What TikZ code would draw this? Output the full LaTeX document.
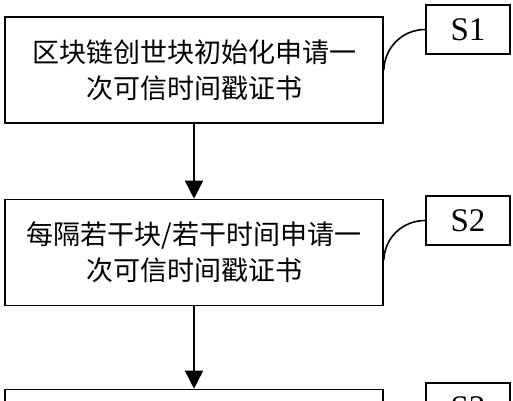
\documentclass[tikz,border=0pt]{standalone}
\usepackage{fontspec}
\setmainfont{Liberation Serif}
\newfontfamily\cjk{Noto Sans CJK SC}
\usetikzlibrary{arrows.meta}

\tikzset{
  stepbox/.style={draw,line width=1.6pt,minimum width=378pt,minimum height=106pt,
    inner sep=0pt,align=center,font=\cjk\fontsize{27}{36}\selectfont},
  labelbox/.style={draw,line width=1.6pt,minimum width=84pt,minimum height=49pt,
    inner sep=0pt,font=\fontsize{33}{33}\selectfont},
  flow/.style={-{Triangle[width=18pt,length=18pt]},line width=1.6pt},
  hook/.style={line width=1.6pt,out=88,in=180},
}

\begin{document}
\begin{tikzpicture}[x=1pt,y=1pt]
  \useasboundingbox (0,0) rectangle (513,-400);
  \clip (0,0) rectangle (513,-400);
  % steps
  \node[stepbox] (b1) at (194,-70) {区块链创世块初始化申请一\\次可信时间戳证书};
  \node[stepbox] (b2) at (194,-252.5) {每隔若干块/若干时间申请一\\次可信时间戳证书};
  \node[stepbox] (b3) at (194,-442.5) {};
  % labels
  \node[labelbox] (s1) at (468,-29.5) {S1};
  \node[labelbox] (s2) at (468,-220.5) {S2};
  \node[labelbox] (s3) at (468,-407.5) {S3};
  \draw[flow] (b1) -- (b2);
  \draw[flow] (b2) -- (b3);
  \draw[hook] (b1.east) to (s1.west);
  \draw[hook] ([yshift=-7.5pt]b2.east) to (s2.west);
\end{tikzpicture}
\end{document}
